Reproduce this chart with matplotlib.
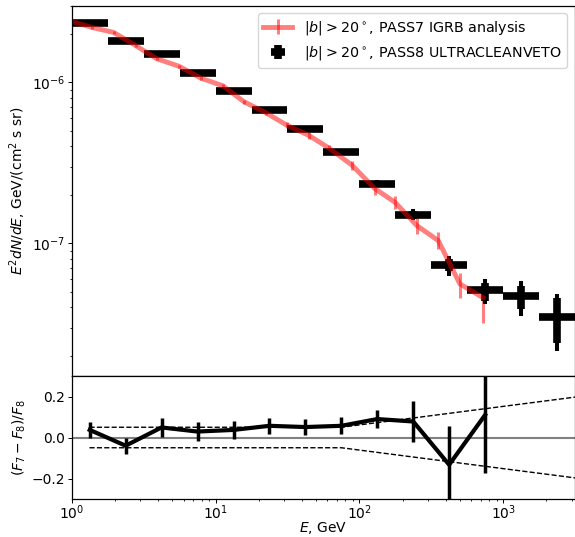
import numpy as np
import matplotlib
matplotlib.use("Agg")
import matplotlib.pyplot as plt

# ---------------- data ----------------
# PASS8 ULTRACLEANVETO, energy bin edges (GeV)
p8_edges = [1.0, 1.78, 3.16, 5.62, 10.0, 17.8, 31.6, 56.2, 100.0, 178.0, 316.0, 562.0, 1000.0, 1778.0, 3162.0]
p8_flux = [2.33e-6, 1.80e-6, 1.49e-6, 1.14e-6, 8.88e-7, 6.75e-7, 5.12e-7, 3.70e-7,
           2.35e-7, 1.50e-7, 7.33e-8, 5.12e-8, 4.71e-8, 3.51e-8]
# statistical (thick) error bounds
p8_stat_lo = [2.30e-6, 1.78e-6, 1.47e-6, 1.125e-6, 8.76e-7, 6.66e-7, 5.04e-7, 3.64e-7,
              2.28e-7, 1.42e-7, 6.70e-8, 4.38e-8, 3.89e-8, 2.41e-8]
p8_stat_hi = [2.36e-6, 1.82e-6, 1.51e-6, 1.155e-6, 9.00e-7, 6.84e-7, 5.20e-7, 3.76e-7,
              2.42e-7, 1.58e-7, 8.00e-8, 5.70e-8, 5.42e-8, 4.60e-8]
# total (thin) error bounds
p8_tot_lo = [2.29e-6, 1.77e-6, 1.46e-6, 1.12e-6, 8.70e-7, 6.62e-7, 5.01e-7, 3.62e-7,
             2.24e-7, 1.39e-7, 6.29e-8, 4.20e-8, 3.53e-8, 2.16e-8]
p8_tot_hi = [2.37e-6, 1.83e-6, 1.52e-6, 1.16e-6, 9.06e-7, 6.88e-7, 5.23e-7, 3.78e-7,
             2.49e-7, 1.64e-7, 8.37e-8, 6.04e-8, 5.85e-8, 4.83e-8]

# PASS7 IGRB analysis
p7_E = [0.98, 1.39, 1.96, 2.79, 3.91, 5.56, 7.94, 11.2, 15.8, 22.3, 31.3, 44.6,
        61.9, 88.9, 128.0, 177.0, 251.0, 354.0, 500.0, 724.0]
p7_flux = [2.40e-6, 2.19e-6, 2.04e-6, 1.69e-6, 1.40e-6, 1.26e-6, 1.06e-6, 9.53e-7,
           7.57e-7, 6.49e-7, 5.42e-7, 4.68e-7, 3.89e-7, 3.06e-7, 2.19e-7, 1.80e-7,
           1.29e-7, 1.04e-7, 5.60e-8, 4.60e-8]
p7_lo = [2.36e-6, 2.15e-6, 2.00e-6, 1.66e-6, 1.37e-6, 1.23e-6, 1.03e-6, 9.25e-7,
         7.33e-7, 6.25e-7, 5.20e-7, 4.45e-7, 3.68e-7, 2.86e-7, 2.00e-7, 1.64e-7,
         1.15e-7, 9.23e-8, 4.60e-8, 3.21e-8]
p7_hi = [2.44e-6, 2.23e-6, 2.08e-6, 1.72e-6, 1.43e-6, 1.29e-6, 1.09e-6, 9.81e-7,
         7.81e-7, 6.73e-7, 5.64e-7, 4.91e-7, 4.10e-7, 3.26e-7, 2.38e-7, 1.96e-7,
         1.43e-7, 1.17e-7, 6.59e-8, 5.60e-8]

# relative difference (F7 - F8)/F8 for first 12 bins
ratio = [0.037, -0.040, 0.049, 0.029, 0.037, 0.057, 0.051, 0.057, 0.090, 0.078, -0.133, 0.110]
ratio_err = [0.038, 0.040, 0.047, 0.047, 0.045, 0.038, 0.038, 0.042, 0.045, 0.100, 0.190, 0.285]

# systematic band (dashed)
sys_E = [1.33, 75.0, 3162.0]
sys_val = [0.05, 0.05, 0.197]

# ---------------- derived ----------------
edges = np.array(p8_edges)
Ec = np.sqrt(edges[:-1] * edges[1:])
xerr = np.vstack([Ec - edges[:-1], edges[1:] - Ec])
f8 = np.array(p8_flux)
stat_err = np.vstack([f8 - np.array(p8_stat_lo), np.array(p8_stat_hi) - f8])
tot_err = np.vstack([f8 - np.array(p8_tot_lo), np.array(p8_tot_hi) - f8])
f7 = np.array(p7_flux)
p7_err = np.vstack([f7 - np.array(p7_lo), np.array(p7_hi) - f7])

plt.rcParams.update({
    'xtick.major.size': 2.6, 'ytick.major.size': 2.6,
    'xtick.minor.size': 1.5, 'ytick.minor.size': 1.5,
    'xtick.major.pad': 0.8, 'ytick.major.pad': 2.0,
    'xtick.major.width': 0.7, 'ytick.major.width': 0.7,
    'xtick.minor.width': 0.6, 'ytick.minor.width': 0.6,
    'axes.linewidth': 0.9,
})

FS = 10
W, H = 575, 537
fig = plt.figure(figsize=(W / 100, H / 100), dpi=100)
L = 71.7 / W
R = 1.0
ax1 = fig.add_axes([L, 1 - 376 / H, R - L, (376 - 5.5) / H])
ax2 = fig.add_axes([L, 1 - 499 / H, R - L, (499 - 376) / H], sharex=ax1)

ax1.errorbar(p7_E, p7_flux, yerr=p7_err, color='red', alpha=0.5, lw=3.5,
             elinewidth=2.2, capsize=0,
             label=r'$|b| > 20^\circ$, PASS7 IGRB analysis')
ax1.errorbar(Ec, f8, xerr=xerr, yerr=stat_err, fmt='none', ecolor='black',
             elinewidth=5.5, capsize=0,
             label=r'$|b| > 20^\circ$, PASS8 ULTRACLEANVETO')
ax1.errorbar(Ec, f8, yerr=tot_err, fmt='none', ecolor='black',
             elinewidth=2.9, capsize=0)

ax1.set_xscale('log')
ax1.set_yscale('log')
ax1.set_xlim(1.0, 10 ** 3.5)
ax1.set_ylim(1.5e-8, 3e-6)
ax1.set_ylabel(r'$E^2 dN/dE$, GeV/(cm$^2$ s sr)', fontsize=FS, labelpad=3)
ax1.tick_params(labelbottom=False, labelsize=FS)
ax1.legend(loc='upper right', fontsize=10.3, borderaxespad=0.55)

ax2.axhline(0, color='gray', lw=1.5)
ax2.errorbar(Ec[:len(ratio)], ratio, yerr=ratio_err, color='black', lw=3,
             elinewidth=2.5, capsize=0)
sv = np.array(sys_val)
ax2.plot(sys_E, sv, 'k--', lw=1)
ax2.plot(sys_E, -sv, 'k--', lw=1)
ax2.set_ylim(-0.3, 0.3)
ax2.set_yticks([-0.2, 0.0, 0.2])
ax2.set_xlabel(r'$E$, GeV', fontsize=FS, labelpad=-2)
ax2.set_ylabel(r'$(F_7 - F_8)/F_8$', fontsize=FS, labelpad=3)
ax2.tick_params(labelsize=FS)
fig.align_ylabels([ax1, ax2])

fig.savefig('out.png', dpi=100)
